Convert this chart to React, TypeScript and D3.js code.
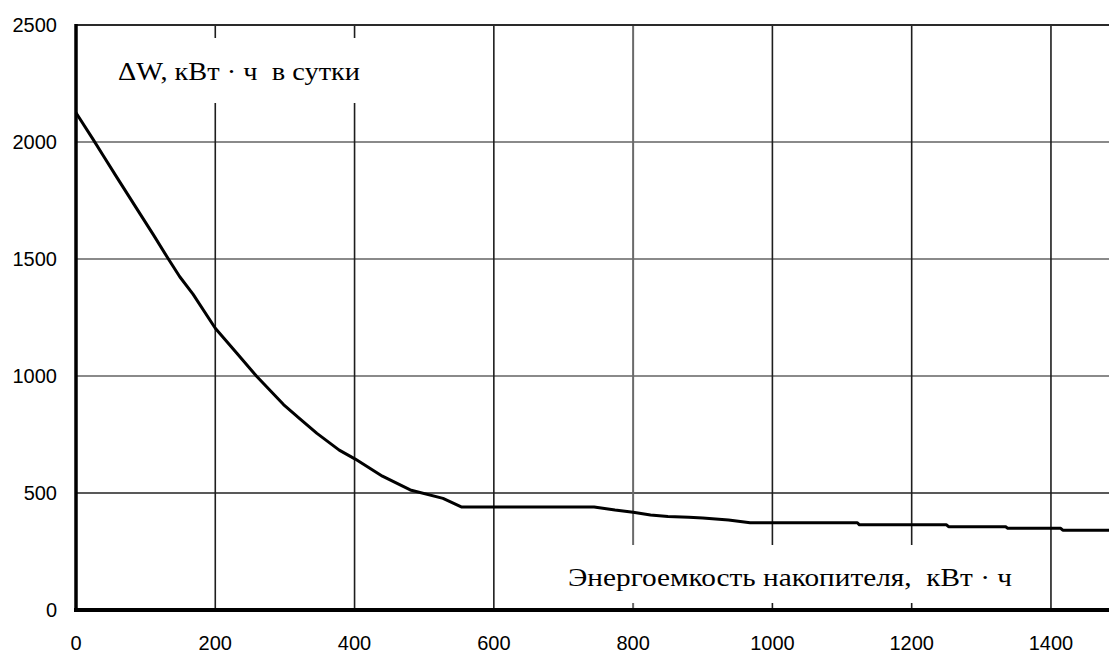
import React from "react";
import * as d3 from "d3";

const capacity = [0, 25, 39, 58, 92, 111, 132, 149, 168, 200, 231, 259, 298, 322, 346, 378, 401, 440, 480, 527, 554, 744, 774, 800, 825, 850, 880, 900, 937, 968, 1122, 1125, 1250, 1253, 1335, 1338, 1414, 1417, 1500];
const loss = [2125, 2009, 1942, 1852, 1693, 1604, 1503, 1424, 1350, 1204, 1097, 1000, 878, 816, 755, 683, 645, 572, 513, 477, 440, 440, 427, 418, 406, 400, 396, 393, 385, 373, 373, 364, 364, 356, 356, 349, 349, 341, 341];

const xTicks = [0, 200, 400, 600, 800, 1000, 1200, 1400];
const yTicks = [0, 500, 1000, 1500, 2000, 2500];
const xGrid = [200, 400, 600, 800, 1000, 1200, 1400];
const yGrid = [500, 1000, 1500, 2000];

const yTitle = "ΔW, кВт · ч  в сутки";
const xTitle = "Энергоемкость накопителя,  кВт · ч";

const W = 1109;
const H = 653;

export default function App() {
  const x = d3.scaleLinear().domain([0, 1500]).range([76, 76 + 1500 * 0.6964]);
  const y = d3.scaleLinear().domain([0, 2500]).range([610, 25]);
  const pts = capacity.map((c, i) => [c, loss[i]] as [number, number]);
  const line = d3
    .line<[number, number]>()
    .x((d) => x(d[0]))
    .y((d) => y(d[1]))
    .curve(d3.curveLinear);

  const tickFont = "'Liberation Sans', Arial, sans-serif";
  const titleFont = "'Liberation Serif', 'Times New Roman', serif";

  return (
    <svg
      width={W}
      height={H}
      style={{ position: "absolute", left: 0, top: 0, background: "#fff" }}
    >
      <rect x={0} y={0} width={W} height={H} fill="#fff" />
      {/* horizontal grid */}
      {yGrid.map((v) => (
        <line
          key={"h" + v}
          x1={x(0)}
          x2={W}
          y1={y(v)}
          y2={y(v)}
          stroke={v === 500 ? "#222" : "#8a8a8a"}
          strokeWidth={v === 500 ? 1.6 : 2}
        />
      ))}
      {/* vertical grid */}
      {xGrid.map((v) => (
        <line
          key={"v" + v}
          x1={x(v)}
          x2={x(v)}
          y1={y(2500)}
          y2={y(0)}
          stroke={v === 800 ? "#6a6a6a" : "#1e1e1e"}
          strokeWidth={v === 800 ? 2 : 1.6}
        />
      ))}
      {/* label backgrounds */}
      <rect x={95} y={38} width={285} height={65} fill="#fff" />
      <rect x={545} y={545} width={485} height={58} fill="#fff" />
      {/* titles */}
      <text
        x={118}
        y={80}
        fontFamily={titleFont}
        fontSize={25}
        textLength={242}
        lengthAdjust="spacingAndGlyphs"
        style={{ whiteSpace: "pre" }}
        fill="#000"
      >
        {yTitle}
      </text>
      <text
        x={568}
        y={586}
        fontFamily={titleFont}
        fontSize={25}
        textLength={444}
        lengthAdjust="spacingAndGlyphs"
        style={{ whiteSpace: "pre" }}
        fill="#000"
      >
        {xTitle}
      </text>
      {/* top border */}
      <line x1={x(0)} x2={W} y1={y(2500)} y2={y(2500)} stroke="#2a2a2a" strokeWidth={2} />
      {/* curve */}
      <path d={line(pts) || ""} fill="none" stroke="#000" strokeWidth={3} strokeLinejoin="round" />
      {/* axes */}
      <line x1={x(0)} x2={x(0)} y1={y(2500) - 1} y2={y(0) + 2} stroke="#000" strokeWidth={3.5} />
      <line x1={x(0) - 2} x2={W} y1={y(0)} y2={y(0)} stroke="#000" strokeWidth={4} />
      {/* tick labels */}
      {yTicks.map((v) => (
        <text
          key={"yt" + v}
          x={57}
          y={y(v)}
          dy="0.36em"
          textAnchor="end"
          fontFamily={tickFont}
          fontSize={20}
          fill="#000"
        >
          {v}
        </text>
      ))}
      {xTicks.map((v) => (
        <text
          key={"xt" + v}
          x={x(v)}
          y={650}
          textAnchor="middle"
          fontFamily={tickFont}
          fontSize={20}
          fill="#000"
        >
          {v}
        </text>
      ))}
    </svg>
  );
}
